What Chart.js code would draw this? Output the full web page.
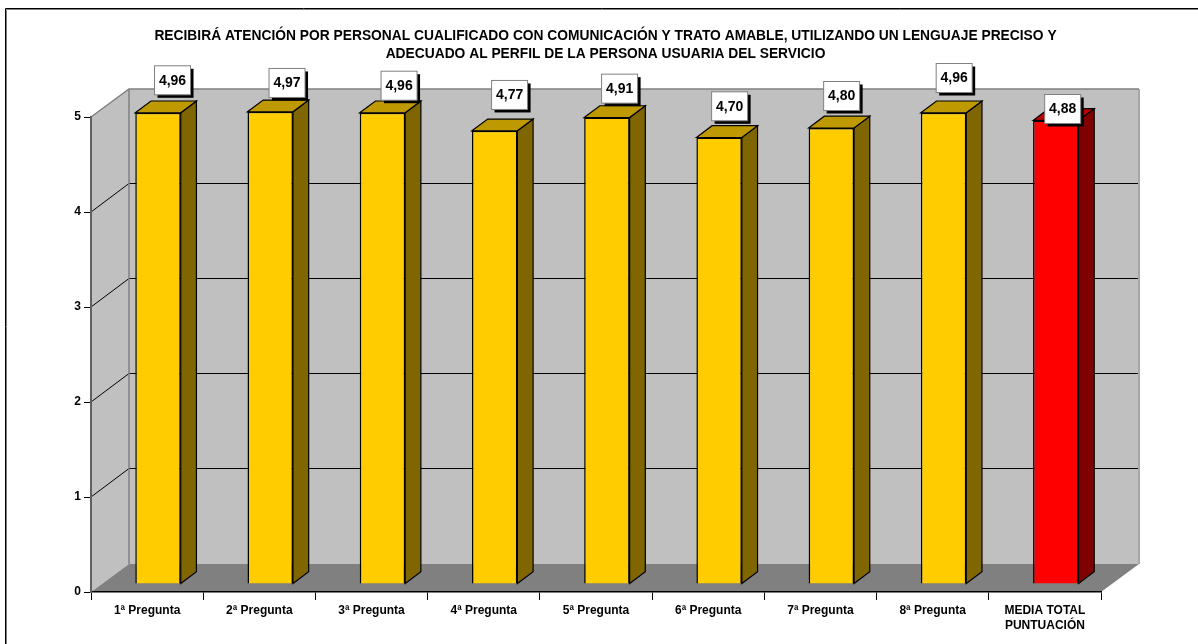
<!DOCTYPE html>
<html lang="es">
<head>
<meta charset="utf-8">
<title>Atención por personal cualificado</title>
<script src="https://cdn.jsdelivr.net/npm/chart.js@4/dist/chart.umd.min.js"></script>
<style>
    html, body { margin: 0; padding: 0; background: #fff; }
    canvas { display: block; }
</style>
</head>
<body>
<canvas id="barChart" width="1198" height="644"></canvas>
<script>
const titleLines = [
    'RECIBIRÁ ATENCIÓN POR PERSONAL CUALIFICADO CON COMUNICACIÓN Y TRATO AMABLE, UTILIZANDO UN LENGUAJE PRECISO Y',
    'ADECUADO AL PERFIL DE LA PERSONA USUARIA DEL SERVICIO'
];
const categories = ['1ª Pregunta', '2ª Pregunta', '3ª Pregunta', '4ª Pregunta', '5ª Pregunta', '6ª Pregunta', '7ª Pregunta', '8ª Pregunta', ['MEDIA TOTAL', 'PUNTUACIÓN']];
const scores = [4.96, 4.97, 4.96, 4.77, 4.91, 4.70, 4.80, 4.96, 4.88];

// face colours per bar
const frontColors = ['#ffcc00', '#ffcc00', '#ffcc00', '#ffcc00', '#ffcc00', '#ffcc00', '#ffcc00', '#ffcc00', '#ff0000'];
const topColors = ['#bf9900', '#bf9900', '#bf9900', '#bf9900', '#bf9900', '#bf9900', '#bf9900', '#bf9900', '#bf0000'];
const sideColors = ['#7f6600', '#7f6600', '#7f6600', '#7f6600', '#7f6600', '#7f6600', '#7f6600', '#7f6600', '#7f0000'];

// the value tags were dragged by hand in the original, offset from each bar top
const tagDx = [14.5, 16.8, 16.6, 14.9, 12.7, 10.5, 10.3, 10.6, 6.9];
const tagDy = [-32.5, -28.9, -27.1, -35.9, -28.9, -31.2, -32, -34.8, -11.4];

// 3D box: depth of the whole plot and of each bar
const wallDepth = { x: 38, y: 28 };
const barShift = { x: 10.9, y: 8 };
const barDepth = { x: 15.7, y: 11.8 };

function poly(ctx, points, fill, stroke, width) {
    ctx.beginPath();
    points.forEach((p, i) => i ? ctx.lineTo(p[0], p[1]) : ctx.moveTo(p[0], p[1]));
    ctx.closePath();
    if (fill) {
        ctx.fillStyle = fill;
        ctx.fill();
    }
    if (stroke) {
        ctx.strokeStyle = stroke;
        ctx.lineWidth = width || 1;
        ctx.stroke();
    }
}

function line(ctx, points, color, width) {
    ctx.beginPath();
    points.forEach((p, i) => i ? ctx.lineTo(p[0], p[1]) : ctx.moveTo(p[0], p[1]));
    ctx.strokeStyle = color;
    ctx.lineWidth = width || 1;
    ctx.stroke();
}

const box3d = {
    id: 'box3d',
    beforeDraw(chart) {
        const { ctx, chartArea, scales } = chart;
        const left = chartArea.left, right = chartArea.right;
        const y0 = scales.y.getPixelForValue(0);
        const yMax = scales.y.getPixelForValue(scales.y.max);
        const dx = wallDepth.x, dy = wallDepth.y;

        ctx.save();
        // picture frame, only top and left show in the original
        line(ctx, [[5.5, 644], [5.5, 8.5], [1198, 8.5]], '#000', 1);
        line(ctx, [[6.5, 644], [6.5, 9.5], [1198, 9.5]], '#808080', 1);

        poly(ctx, [[left + dx, y0 - dy], [right + dx, y0 - dy], [right + dx, yMax - dy], [left + dx, yMax - dy]], '#c0c0c0');
        poly(ctx, [[left, y0], [left + dx, y0 - dy], [left + dx, yMax - dy], [left, yMax]], '#c0c0c0');
        poly(ctx, [[left, y0], [right, y0], [right + dx, y0 - dy], [left + dx, y0 - dy]], '#808080');

        scales.y.ticks.forEach(t => {
            if (t.value === 0 || t.value === scales.y.max) return;
            const y = scales.y.getPixelForValue(t.value);
            line(ctx, [[left, y], [left + dx, y - dy - 0.5], [right + dx, y - dy - 0.5]], '#000', 1);
        });

        // wall edges
        line(ctx, [[left + dx, y0 - dy], [left + dx, yMax - dy]], '#808080', 1.5);
        line(ctx, [[left, yMax], [left + dx, yMax - dy], [right + dx, yMax - dy]], '#808080', 1.5);
        line(ctx, [[right + dx, yMax - dy], [right + dx, y0 - dy]], '#a6a6a6', 2);
        ctx.restore();
    },
    beforeDatasetsDraw(chart) {
        chart.ctx.save();
        chart.ctx.translate(barShift.x, -barShift.y);
    },
    afterDatasetsDraw(chart) {
        const { ctx } = chart;
        const bars = chart.getDatasetMeta(0).data;
        const dx = barDepth.x, dy = barDepth.y;

        bars.forEach((bar, i) => {
            const l = bar.x - bar.width / 2, r = bar.x + bar.width / 2;
            poly(ctx, [[r, bar.y], [r + dx, bar.y - dy], [r + dx, bar.base - dy], [r, bar.base]], sideColors[i], '#000', 1.2);
            poly(ctx, [[l, bar.y], [l + dx, bar.y - dy], [r + dx, bar.y - dy], [r, bar.y]], topColors[i], '#000', 1.2);
        });
        ctx.restore();

        // value tags
        ctx.save();
        ctx.font = 'bold 14px "Liberation Sans", Arial, sans-serif';
        ctx.textAlign = 'center';
        ctx.textBaseline = 'middle';
        bars.forEach((bar, i) => {
            const cx = bar.x + barShift.x + tagDx[i];
            const cy = bar.y - barShift.y + tagDy[i];
            const w = 36, h = 29;
            ctx.fillStyle = '#000';
            ctx.fillRect(cx - w / 2 + 3, cy - h / 2 + 3, w, h);
            ctx.fillStyle = '#fff';
            ctx.fillRect(cx - w / 2, cy - h / 2, w, h);
            ctx.strokeStyle = '#808080';
            ctx.lineWidth = 1;
            ctx.strokeRect(cx - w / 2, cy - h / 2, w, h);
            ctx.fillStyle = '#000';
            ctx.fillText(scores[i].toFixed(2).replace('.', ','), cx, cy + 0.5);
        });
        ctx.restore();
    }
};

new Chart(document.getElementById('barChart'), {
    type: 'bar',
    data: {
        labels: categories,
        datasets: [{
            data: scores,
            backgroundColor: frontColors,
            borderColor: '#000',
            borderWidth: 1.5,
            categoryPercentage: 1,
            barPercentage: 0.405
        }]
    },
    plugins: [box3d],
    options: {
        responsive: false,
        animation: false,
        devicePixelRatio: 1,
        layout: { padding: { left: 13, right: 0, top: 0, bottom: 0 } },
        plugins: {
            legend: { display: false },
            tooltip: { enabled: false },
            title: {
                display: true,
                text: titleLines,
                color: '#000',
                font: { family: '"Liberation Sans", Arial, sans-serif', size: 13.8, weight: 'bold', lineHeight: 18.5 / 13.8 },
                padding: { top: 26.5, bottom: 53.5 }
            }
        },
        scales: {
            x: {
                afterFit(scale) { scale.height = 52; },
                border: { color: '#000', width: 1.5 },
                grid: { drawOnChartArea: false, tickLength: 8, color: '#000', offset: true },
                ticks: {
                    color: '#000',
                    autoSkip: false,
                    maxRotation: 0,
                    padding: 3,
                    font: { family: '"Liberation Sans", Arial, sans-serif', size: 12, weight: 'bold', lineHeight: 1.25 }
                }
            },
            y: {
                min: 0,
                max: 5,
                afterFit(scale) { scale.width = 78; },
                border: { color: '#606060', width: 2 },
                grid: { drawOnChartArea: false, tickLength: 7, color: '#000' },
                ticks: {
                    stepSize: 1,
                    color: '#000',
                    padding: 3,
                    font: { family: '"Liberation Sans", Arial, sans-serif', size: 12, weight: 'bold' }
                }
            },
            // empty axis, only keeps the blank margin right of the plot so the title stays centred on the page
            rightMargin: {
                axis: 'y',
                position: 'right',
                afterFit(scale) { scale.width = 97; },
                border: { display: false },
                grid: { display: false },
                ticks: { display: false }
            }
        }
    }
});
</script>
</body>
</html>
